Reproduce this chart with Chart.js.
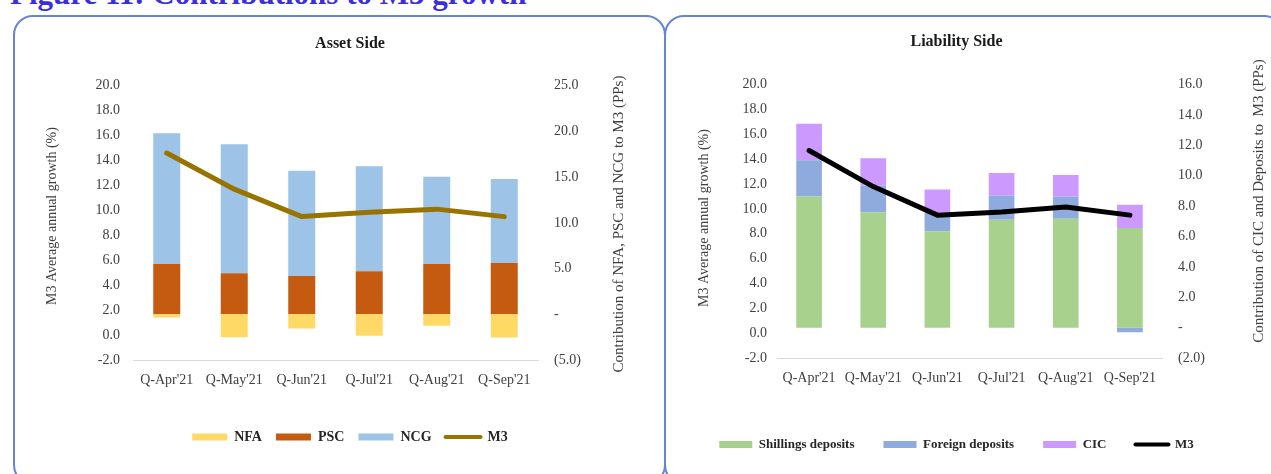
<!DOCTYPE html>
<html>
<head>
<meta charset="utf-8">
<script src="https://cdn.jsdelivr.net/npm/chart.js@4.4.1/dist/chart.umd.min.js"></script>
<style>
  html, body { margin: 0; padding: 0; background: #fff; }
  body { width: 1271px; height: 474px; overflow: hidden; position: relative; }
  .fig-title { position: absolute; left: 10px; top: -22px; font: bold 31px/1 'Liberation Serif', serif; color: #3b2fd9; white-space: nowrap; }
  .panel { position: absolute; top: 15px; height: 470px; box-sizing: border-box; border: 2px solid #6686cf; border-radius: 20px; }
  #panel-asset { left: 13px; width: 653px; }
  #panel-liab { left: 664px; width: 620px; }
  canvas { position: absolute; top: 15px; }
  #chart-asset { left: 12px; }
  #chart-liab { left: 642px; }
</style>
</head>
<body>
<div class="fig-title">Figure 11: Contributions to M3 growth</div>
<div class="panel" id="panel-asset"></div>
<div class="panel" id="panel-liab"></div>
<canvas id="chart-asset" width="676" height="459"></canvas>
<canvas id="chart-liab" width="629" height="459"></canvas>
<script>
const quarters = ["Q-Apr'21", "Q-May'21", "Q-Jun'21", "Q-Jul'21", "Q-Aug'21", "Q-Sep'21"]

// asset side, contributions in pps (right axis), M3 growth in % (left axis)
const nfa = [-0.35, -2.5, -1.55, -2.35, -1.25, -2.55]
const psc = [5.5, 4.5, 4.2, 4.7, 5.5, 5.6]
const ncg = [14.3, 14.1, 11.5, 11.5, 9.55, 9.2]
const m3Asset = [14.6, 11.7, 9.5, 9.85, 10.1, 9.5]

// liability side
const shillings = [8.63, 7.6, 6.34, 7.1, 7.17, 6.56]
const foreign = [2.4, 1.75, 1.22, 1.6, 1.46, -0.3]
const cic = [2.4, 1.8, 1.53, 1.49, 1.42, 1.53]
const m3Liab = [14.7, 11.8, 9.5, 9.75, 10.15, 9.5]

Chart.defaults.font.family = "'Liberation Serif', 'Times New Roman', serif"
Chart.defaults.color = '#404040'

const tickColor = '#404040'
const fmtPlain = v => v.toFixed(1)
const fmtParen = v => v === 0 ? '-' : (v < 0 ? '(' + Math.abs(v).toFixed(1) + ')' : v.toFixed(1))

// vertical axis titles, both read bottom to top like the original
const sideTitles = {
  id: 'sideTitles',
  afterDraw(chart, args, opts) {
    const ctx = chart.ctx
    ;(opts.items || []).forEach(t => {
      ctx.save()
      ctx.translate(t.x, t.y)
      ctx.rotate(-Math.PI / 2)
      ctx.font = t.size + "px 'Liberation Serif', serif"
      ctx.fillStyle = '#404040'
      ctx.textAlign = 'center'
      ctx.textBaseline = 'middle'
      ctx.fillText(t.text, 0, 0)
      ctx.restore()
    })
  }
}

function legendLabels(chart) {
  return Chart.defaults.plugins.legend.labels.generateLabels(chart).map(item => {
    if (item.pointStyle === 'line') {
      item.lineWidth = 4
      item.lineCap = 'round'
    } else {
      item.lineWidth = 0
    }
    return item
  })
}

function buildChart(id, cfg) {
  const datasets = cfg.bars.map(b => ({
    label: b.label,
    data: b.data,
    backgroundColor: b.color,
    borderWidth: 0,
    yAxisID: 'y1',
    order: 1,
    pointStyle: 'rect',
    categoryPercentage: 0.4,
    barPercentage: 1
  }))
  datasets.push({
    type: 'line',
    label: 'M3',
    data: cfg.line,
    borderColor: cfg.lineColor,
    backgroundColor: cfg.lineColor,
    borderWidth: 5,
    borderCapStyle: 'round',
    borderJoinStyle: 'round',
    pointRadius: 0,
    pointStyle: 'line',
    tension: 0,
    yAxisID: 'y',
    order: 0
  })

  return new Chart(document.getElementById(id), {
    type: 'bar',
    data: { labels: quarters, datasets },
    options: {
      responsive: false,
      animation: false,
      layout: { padding: { left: 0, right: 0, top: 0, bottom: cfg.padBottom } },
      plugins: {
        title: {
          display: true,
          text: cfg.title,
          color: '#1a1a1a',
          font: { size: 16, weight: 'bold' },
          padding: { top: cfg.titleTop, bottom: cfg.titleBottom }
        },
        legend: {
          position: 'bottom',
          labels: {
            usePointStyle: true,
            pointStyleWidth: cfg.swatch,
            boxHeight: 7,
            padding: cfg.legendPad,
            color: '#262626',
            font: { size: cfg.legendSize, weight: 'bold' },
            generateLabels: legendLabels,
            sort: (a, b) => a.datasetIndex - b.datasetIndex
          }
        },
        tooltip: { enabled: false },
        sideTitles: { items: cfg.axisTitles }
      },
      scales: {
        x: {
          stacked: true,
          grid: { display: false, drawTicks: false },
          border: { display: true, color: '#d9d9d9', width: 1 },
          ticks: { color: tickColor, font: { size: 14 }, padding: 12, maxRotation: 0, autoSkip: false },
          afterFit: s => { s.height = cfg.xHeight }
        },
        y: {
          position: 'left',
          min: -2,
          max: 20,
          grid: { display: false, drawTicks: false },
          border: { display: false },
          ticks: { stepSize: 2, color: tickColor, font: { size: 14 }, padding: cfg.leftTickPad, callback: fmtPlain },
          afterFit: s => { s.width = cfg.leftWidth }
        },
        y1: {
          position: 'right',
          stacked: true,
          min: cfg.rightMin,
          max: cfg.rightMax,
          grid: { display: false, drawTicks: false },
          border: { display: false },
          ticks: { stepSize: cfg.rightStep, color: tickColor, font: { size: 14 }, padding: 16, callback: fmtParen },
          afterFit: s => { s.width = cfg.rightWidth }
        }
      }
    },
    plugins: [sideTitles]
  })
}

buildChart('chart-asset', {
  title: 'Asset Side',
  titleTop: 19,
  titleBottom: 32.5,
  bars: [
    { label: 'NFA', data: nfa, color: '#FFD966' },
    { label: 'PSC', data: psc, color: '#C55A11' },
    { label: 'NCG', data: ncg, color: '#9DC3E6' }
  ],
  line: m3Asset,
  lineColor: '#997300',
  rightMin: -5, rightMax: 25, rightStep: 5,
  leftWidth: 121, rightWidth: 150,
  leftTickPad: 13,
  xHeight: 56, padBottom: 20,
  swatch: 35, legendPad: 14, legendSize: 14,
  axisTitles: [
    { text: 'M3 Average annual growth (%)', x: 40, y: 201, size: 14 },
    { text: 'Contribution of NFA, PSC and NCG to M3 (PPs)', x: 607, y: 209, size: 15 }
  ]
})

buildChart('chart-liab', {
  title: 'Liability Side',
  titleTop: 17,
  titleBottom: 33.5,
  bars: [
    { label: 'Shillings deposits', data: shillings, color: '#A9D18E' },
    { label: 'Foreign deposits', data: foreign, color: '#8FAADC' },
    { label: 'CIC', data: cic, color: '#CC99FF' }
  ],
  line: m3Liab,
  lineColor: '#000000',
  rightMin: -2, rightMax: 16, rightStep: 2,
  leftWidth: 135, rightWidth: 109,
  leftTickPad: 10,
  xHeight: 51, padBottom: 13,
  swatch: 33, legendPad: 29, legendSize: 13,
  axisTitles: [
    { text: 'M3 Average annual growth (%)', x: 62, y: 203, size: 14 },
    { text: 'Contribution of CIC and Deposits to  M3 (PPs)', x: 617, y: 186, size: 15 }
  ]
})
</script>
</body>
</html>
